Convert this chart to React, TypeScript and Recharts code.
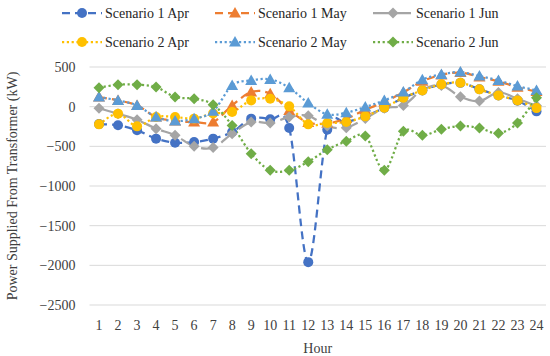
import React from 'react';
import { LineChart, Line, XAxis, YAxis, CartesianGrid, Label } from 'recharts';

const hours = ['1', '2', '3', '4', '5', '6', '7', '8', '9', '10', '11', '12', '13', '14', '15', '16', '17', '18', '19', '20', '21', '22', '23', '24'];
const yTicks = [500, 0, -500, -1000, -1500, -2000, -2500];

const s1Apr = [-220, -235, -298, -403, -454, -446, -403, -320, -151, -160, -270, -1960, -290, -200, -120, -15, 110, 205, 280, 300, 220, 140, 75, -59];
const s1May = [121, 79, 16, -130, -180, -194, -194, 16, 184, 163, -47, -200, -210, -150, -40, 60, 180, 320, 400, 430, 375, 320, 245, 190];
const s1Jun = [-20, -90, -165, -277, -361, -500, -516, -340, -194, -206, -131, -115, -245, -265, -150, -20, 16, 210, 268, 125, 70, 180, 100, 10];
const s2Apr = [-223, -88, -248, -130, -130, -151, -85, -68, 79, 100, 4, -223, -206, -194, -122, -13, 113, 205, 281, 302, 218, 142, 79, -18];
const s2May = [121, 79, 16, -130, -181, -151, -59, 268, 331, 344, 239, 45, -97, -76, -5, 79, 184, 340, 407, 436, 385, 331, 259, 205];
const s2Jun = [239, 277, 277, 247, 121, 100, 25, -237, -592, -802, -802, -694, -542, -437, -370, -802, -311, -361, -286, -244, -269, -336, -206, 113];

const data = hours.map((h, i) => ({
  hour: h,
  s1Apr: s1Apr[i],
  s1May: s1May[i],
  s1Jun: s1Jun[i],
  s2Apr: s2Apr[i],
  s2May: s2May[i],
  s2Jun: s2Jun[i],
}));

const FONT = '"Liberation Serif", "Times New Roman", serif';

type Shape = 'circle' | 'triangle' | 'diamond';

const SERIES: { key: string; name: string; color: string; dash: string; shape: Shape }[] = [
  { key: 's1Apr', name: 'Scenario 1 Apr', color: '#4472C4', dash: '8 5', shape: 'circle' },
  { key: 's1May', name: 'Scenario 1 May', color: '#ED7D31', dash: '8 5', shape: 'triangle' },
  { key: 's1Jun', name: 'Scenario 1 Jun', color: '#A5A5A5', dash: '16 6', shape: 'diamond' },
  { key: 's2Apr', name: 'Scenario 2 Apr', color: '#FFC000', dash: '2.2 2.6', shape: 'circle' },
  { key: 's2May', name: 'Scenario 2 May', color: '#5B9BD5', dash: '2.2 2.6', shape: 'triangle' },
  { key: 's2Jun', name: 'Scenario 2 Jun', color: '#70AD47', dash: '2.2 2.6', shape: 'diamond' },
];

// Excel-like smoothed line (Catmull-Rom as cubic beziers)
function smoothCurve(context: any) {
  let pts: number[][] = [];
  return {
    areaStart() {},
    areaEnd() {},
    lineStart() { pts = []; },
    point(x: number, y: number) { pts.push([+x, +y]); },
    lineEnd() {
      if (!pts.length) return;
      context.moveTo(pts[0][0], pts[0][1]);
      for (let i = 0; i < pts.length - 1; i++) {
        const p0 = pts[i - 1] || pts[i];
        const p1 = pts[i];
        const p2 = pts[i + 1];
        const p3 = pts[i + 2] || p2;
        context.bezierCurveTo(
          p1[0] + (p2[0] - p0[0]) / 6, p1[1] + (p2[1] - p0[1]) / 6,
          p2[0] - (p3[0] - p1[0]) / 6, p2[1] - (p3[1] - p1[1]) / 6,
          p2[0], p2[1]
        );
      }
    },
  };
}

function markerEl(shape: Shape, cx: number, cy: number, color: string, key?: any) {
  if (shape === 'circle') return <circle key={key} cx={cx} cy={cy} r={5} fill={color} />;
  if (shape === 'triangle') {
    return <polygon key={key} points={`${cx},${cy - 6} ${cx + 6},${cy + 4.5} ${cx - 6},${cy + 4.5}`} fill={color} />;
  }
  return <polygon key={key} points={`${cx},${cy - 5.5} ${cx + 5.5},${cy} ${cx},${cy + 5.5} ${cx - 5.5},${cy}`} fill={color} />;
}

function LegendBox() {
  const cols = [62, 215, 373];
  const rows = [13, 42];
  return (
    <svg width={550} height={56} style={{ position: 'absolute', left: 0, top: 0 }}>
      {SERIES.map((s, i) => {
        const x = cols[i % 3];
        const y = rows[Math.floor(i / 3)];
        return (
          <g key={s.key}>
            <line x1={x} y1={y} x2={x + 40} y2={y} stroke={s.color} strokeWidth={2.25} strokeDasharray={s.dash} />
            {markerEl(s.shape, x + 20, y, s.color)}
            <text x={x + 43} y={y} dy="0.35em" fontFamily={FONT} fontSize={14} fill="#262626">{s.name}</text>
          </g>
        );
      })}
    </svg>
  );
}

export default function App() {
  return (
    <div style={{ position: 'absolute', left: 0, top: 0, width: 550, height: 356, background: '#fff' }}>
      <LineChart width={550} height={356} data={data} margin={{ top: 67, right: 4, left: 0, bottom: 0 }}>
        <CartesianGrid vertical={false} stroke="#D9D9D9" strokeWidth={1} />
        <XAxis
          dataKey="hour"
          height={51}
          padding={{ left: 9.5, right: 9.5 }}
          axisLine={false}
          tickLine={false}
          tickSize={0}
          tickMargin={15}
          interval={0}
          tick={{ fontFamily: FONT, fontSize: 14, fill: '#404040' }}
        >
          <Label value="Hour" position="insideBottom" offset={3} style={{ fontFamily: FONT, fontSize: 14, fill: '#404040' }} />
        </XAxis>
        <YAxis
          width={89.5}
          domain={[-2500, 500]}
          ticks={yTicks}
          interval={0}
          axisLine={false}
          tickLine={false}
          tickSize={0}
          tickMargin={14}
          tickFormatter={(v: number) => (v < 0 ? `\u2212${Math.abs(v)}` : `${v}`)}
          tick={{ fontFamily: FONT, fontSize: 14, fill: '#404040' }}
        >
          <Label
            value="Power Supplied From Transformer (kW)"
            angle={-90}
            position="insideLeft"
            offset={12}
            style={{ fontFamily: FONT, fontSize: 14, fill: '#404040', textAnchor: 'middle' }}
          />
        </YAxis>
        {SERIES.map((s) => (
          <Line
            key={s.key}
            dataKey={s.key}
            name={s.name}
            type={smoothCurve as any}
            stroke={s.color}
            strokeWidth={2.25}
            strokeDasharray={s.dash}
            isAnimationActive={false}
            dot={(p: any) => markerEl(s.shape, p.cx, p.cy, s.color, `${s.key}-${p.index}`)}
            activeDot={false}
          />
        ))}
      </LineChart>
      <LegendBox />
    </div>
  );
}
